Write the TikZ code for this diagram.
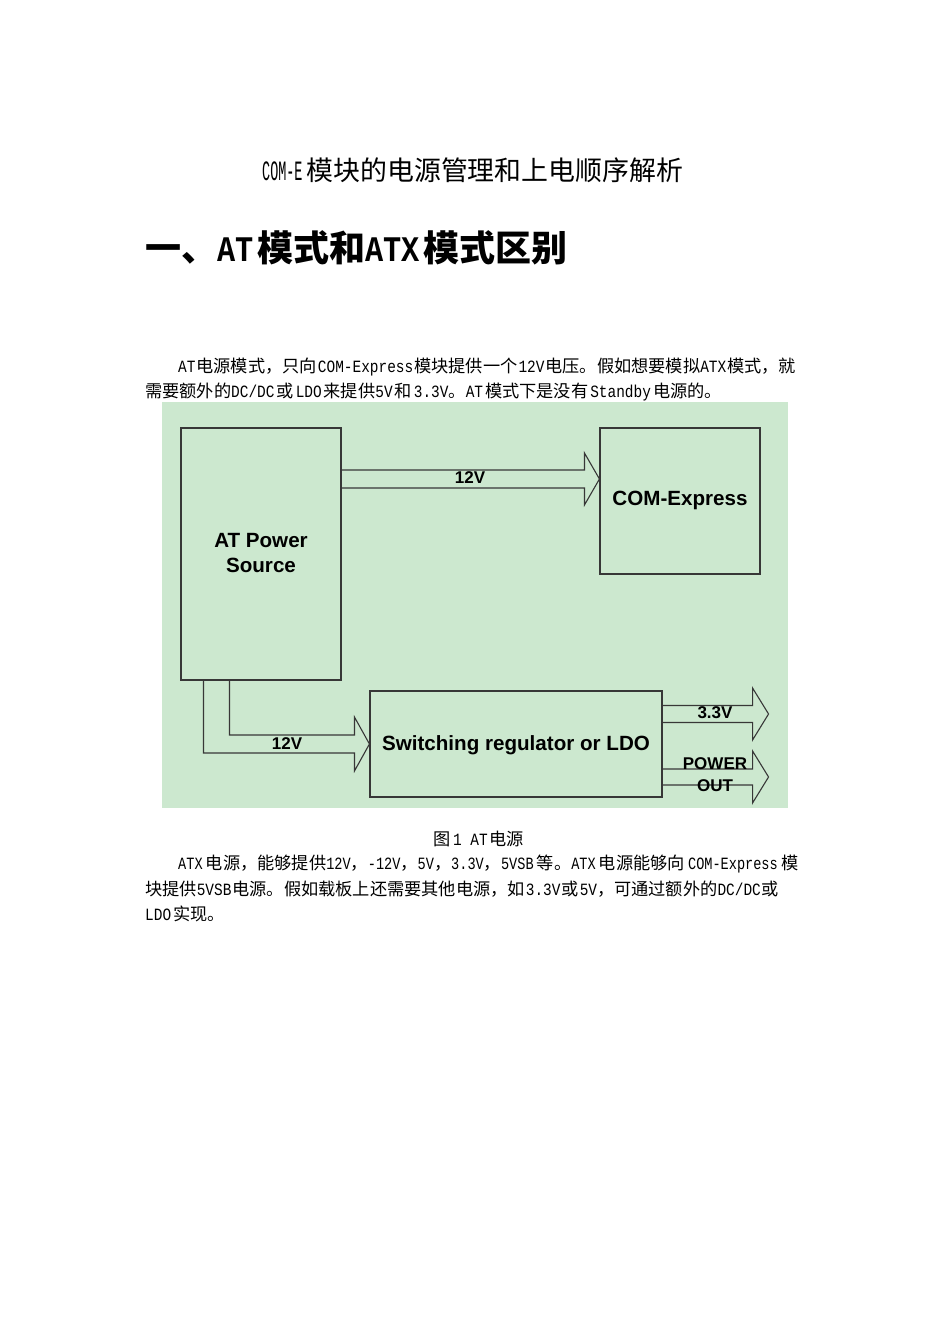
\documentclass[tikz,border=0pt]{standalone}
\usepackage{fontspec}
\usepackage{graphicx}
\usetikzlibrary{calc}
\setmainfont{Noto Sans CJK SC}
\newfontfamily\monof{Liberation Mono}
\newfontfamily\arialf{Liberation Sans}
\definecolor{bggreen}{RGB}{204,232,207}
\definecolor{linec}{RGB}{55,55,55}
\XeTeXinterchartokenstate=1
\XeTeXinterchartoks 1 1 = {\hskip 0pt plus 1pt\relax}
\XeTeXinterchartoks 1 3 = {\hskip 0pt plus 1pt\relax}
\XeTeXinterchartoks 3 1 = {\hskip 0pt plus 1pt\relax}
\XeTeXinterchartoks 1 2 = {\hskip 0pt plus 1pt\relax}
\XeTeXinterchartoks 2 1 = {\hskip 0pt plus 1pt\relax}
\newcommand\Lb[1]{\scalebox{0.84}[1]{\monof #1}}
\newcommand\Lc[1]{\scalebox{0.79}[1]{\monof #1}}
\newcommand\Lt[1]{\scalebox{0.48}[1]{\monof\fontsize{28pt}{28pt}\selectfont #1}}
\newcommand\gp{\hskip 2pt plus 2pt minus 1pt\relax}
\newcommand\bodyf{\fontsize{17.2pt}{17.2pt}\selectfont}
\tikzset{
  txt/.style={inner sep=0pt, font=\bodyf, text=black},
  blockbox/.style={draw=linec, line width=1.1pt, inner sep=0pt},
  blockarrow/.style={draw=linec, line width=1.1pt, line join=miter},
  dlabel/.style={inner sep=0pt, text=black, font=\arialf\bfseries\fontsize{20.6pt}{25pt}\selectfont, align=center},
  alabel/.style={inner sep=0pt, text=black, font=\arialf\bfseries\fontsize{17pt}{22pt}\selectfont, align=center}
}
\begin{document}
\begin{tikzpicture}[x=1pt,y=-1pt]
\useasboundingbox (0,0) rectangle (950,1344);
\fill[white] (0,0) rectangle (950,1344);

% title and heading
\node[inner sep=0pt, anchor=west] (title) at (262,170) {\Lt{COM-E}\hskip4pt{\fontsize{26.9pt}{26.9pt}\selectfont 模块的电源管理和上电顺序解析}};
\node[inner sep=0pt, anchor=west, font=\bfseries\fontsize{36pt}{36pt}\selectfont] (head) at (145,248) {一、\Lb{AT}\hskip4pt 模式和\Lb{ATX}\hskip4pt 模式区别};

% paragraph 1
\node[txt, anchor=west] (p1a) at (178,367) {\makebox[617pt][s]{\Lb{AT}\gp 电源模式，只向\gp\Lb{COM-Express}\gp 模块提供一个\gp\Lb{12V}\gp 电压。假如想要模拟\Lb{ATX}\gp 模式，就}};
\node[txt, anchor=west] (p1b) at (145,392) {需要额外的\Lb{DC/DC}\gp 或\gp\Lb{LDO}\gp 来提供\Lb{5V}\gp 和\gp\Lb{3.3V}。\Lb{AT}\gp 模式下是没有\gp\Lb{Standby}\gp 电源的。};

% diagram
\fill[bggreen] (162,402) rectangle (788,808);
\node[blockbox, minimum width=160pt, minimum height=252pt] (at) at (261,554) {};
\node[blockbox, minimum width=160pt, minimum height=146pt] (com) at (680,501) {};
\node[blockbox, minimum width=292pt, minimum height=106pt] (reg) at (516,744) {};

\node[dlabel] (atl) at (261,553) {AT Power\\Source};
\node[dlabel] (coml) at (680,500) {COM-Express};
\node[dlabel] (regl) at (516,745) {Switching regulator or LDO};

% top arrow 12V
\coordinate (t1) at ($(com.west)+(0,-22)$);
\draw[blockarrow] ($(at.east|-t1)+(0,-9)$) -- ($(t1)+(-15,-9)$) -- ($(t1)+(-15,-26)$) -- (t1)
  -- ($(t1)+(-15,26)$) -- ($(t1)+(-15,9)$) -- ($(at.east|-t1)+(0,9)$);
\node[alabel] (l12a) at (470,478) {12V};

% bottom input arrow 12V
\coordinate (t2) at (reg.west);
\coordinate (s1) at ($(at.south west)+(23,0)$);
\coordinate (s2) at ($(at.south west)+(49,0)$);
\draw[blockarrow] (s1) -- ($(s1|-t2)+(0,9)$) -- ($(t2)+(-15,9)$)
  -- ($(t2)+(-15,27)$) -- (t2) -- ($(t2)+(-15,-27)$) -- ($(t2)+(-15,-9)$)
  -- ($(s2|-t2)+(0,-9)$) -- (s2);
\node[alabel] (l12b) at (287,744) {12V};

% output arrows
\coordinate (t3) at ($(reg.east)+(106,-30)$);
\draw[blockarrow] ($(reg.east|-t3)+(0,-8.5)$) -- ($(t3)+(-16,-8.5)$) -- ($(t3)+(-16,-26)$) -- (t3)
  -- ($(t3)+(-16,26)$) -- ($(t3)+(-16,8.5)$) -- ($(reg.east|-t3)+(0,8.5)$);
\node[alabel] (l33) at (715,713) {3.3V};

\coordinate (t4) at ($(reg.east)+(106,33)$);
\draw[blockarrow] ($(reg.east|-t4)+(0,-8)$) -- ($(t4)+(-16,-8)$) -- ($(t4)+(-16,-26)$) -- (t4)
  -- ($(t4)+(-16,26)$) -- ($(t4)+(-16,8)$) -- ($(reg.east|-t4)+(0,8)$);
\node[alabel] (lpw) at (715,764) {POWER};
\node[alabel] (lout) at (715,786) {OUT};

% caption
\node[txt] (cap) at (479,839) {图\gp\Lb{1 AT}\gp 电源};

% paragraph 2
\node[txt, anchor=west] (p2a) at (178,864) {\makebox[620pt][s]{\Lc{ATX}\gp 电源，能够提供\Lc{12V}，\Lc{-12V}，\Lc{5V}，\Lc{3.3V}，\Lc{5VSB}\gp 等。\Lc{ATX}\gp 电源能够向\gp\Lc{COM-Express}\gp 模}};
\node[txt, anchor=west] (p2b) at (145,889) {\makebox[633pt][s]{块提供\Lb{5VSB}\gp 电源。假如载板上还需要其他电源，如\gp\Lb{3.3V}\gp 或\gp\Lb{5V}，可通过额外的\Lb{DC/DC}\gp 或}};
\node[txt, anchor=west] (p2c) at (145,914) {\Lb{LDO}\gp 实现。};
\end{tikzpicture}
\end{document}
